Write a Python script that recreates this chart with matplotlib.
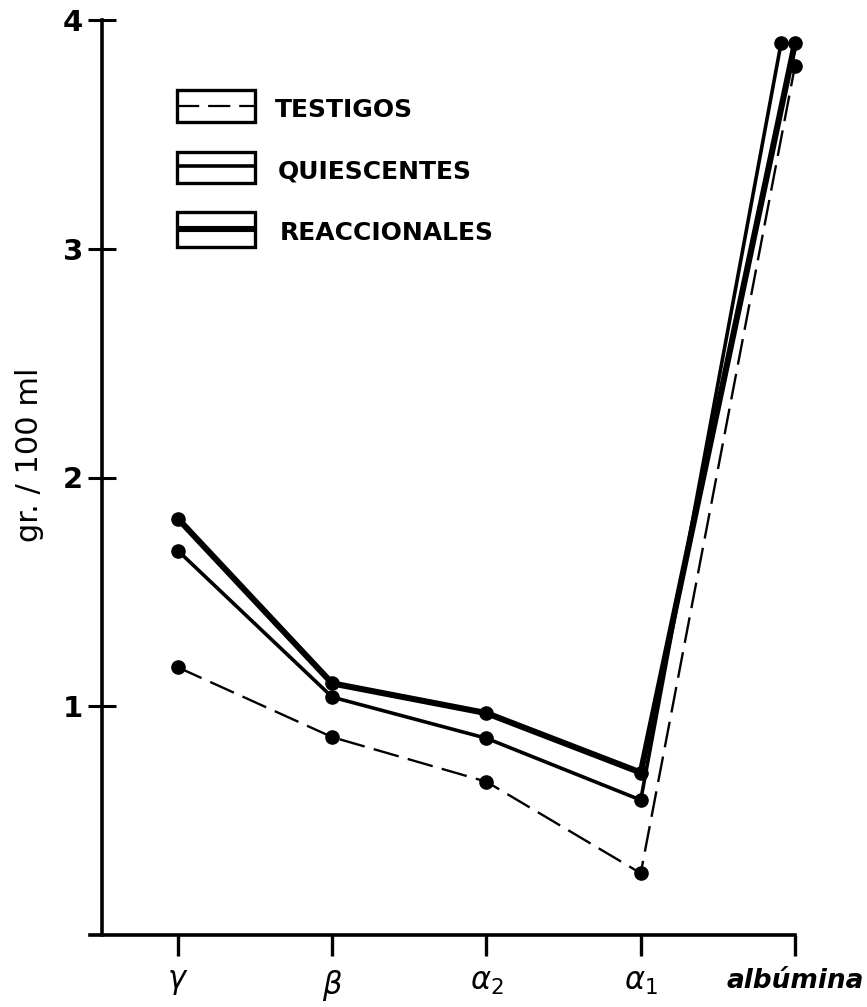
import matplotlib
matplotlib.use('Agg')
import matplotlib.pyplot as plt
from matplotlib.patches import Rectangle
from matplotlib.lines import Line2D

# fracciones proteicas del suero
fracciones = [r'$\gamma$', r'$\beta$', r'$\alpha_2$', r'$\alpha_1$', 'albúmina']
testigos = [1.17, 0.865, 0.67, 0.27, 3.80]
quiescentes = [1.68, 1.04, 0.86, 0.59, 3.90]
reaccionales = [1.82, 1.10, 0.97, 0.71, 3.90]
y_ticks = [1, 2, 3, 4]
grupos = ['TESTIGOS', 'QUIESCENTES', 'REACCIONALES']

W, H = 867, 1007
fig = plt.figure(figsize=(W / 100, H / 100), dpi=100)


def fx(px):
    return px / W


def fy(py):
    return 1 - py / H


ax = fig.add_axes([fx(90), fy(935), fx(795) - fx(90), fy(20) - fy(935)])
ax.set_xlim(-0.57, 4.0)
ax.set_ylim(0, 4)

x = list(range(len(fracciones)))
# el punto de albúmina de los quiescentes está algo corrido a la izquierda
x_quies = x[:-1] + [x[-1] - 0.09]

estilos = [
    (testigos, x, dict(lw=1.7, dashes=(11, 4))),
    (quiescentes, x_quies, dict(lw=2.6)),
    (reaccionales, x, dict(lw=4.4)),
]
for vals, xs, kw in estilos:
    ax.plot(xs, vals, color='black', marker='o', ms=9.5,
            solid_capstyle='round', clip_on=False, **kw)

for s in ['top', 'right']:
    ax.spines[s].set_visible(False)
ax.spines['left'].set_position(('data', -0.49))
ax.spines['left'].set_bounds(0, 4)
for s in ['left', 'bottom']:
    ax.spines[s].set_linewidth(2.6)

ax.set_yticks(y_ticks)
ax.set_yticklabels([str(t) for t in y_ticks], fontsize=21, fontweight='bold')
ax.tick_params(axis='y', direction='inout', length=20, width=2.2, pad=4)

ax.set_xticks(x)
ax.set_xticklabels(fracciones)
ax.tick_params(axis='x', direction='out', length=15, width=2.4, pad=9)
for i, lab in enumerate(ax.get_xticklabels()):
    if i == len(fracciones) - 1:
        lab.set_fontsize(19)
        lab.set_fontweight('bold')
        lab.set_fontstyle('italic')
    else:
        lab.set_fontsize(22)

fig.text(fx(30), fy(455), 'gr. / 100 ml', rotation=90, fontsize=22,
         ha='center', va='center')

# leyenda dibujada a mano: recuadro con la línea en el medio
cajas = [(90, 122, 106, 275), (152, 183, 166, 278), (212, 247, 229, 280)]
lineas = [dict(lw=1.6, dashes=(10, 4)), dict(lw=2.6), dict(lw=4.4)]
for nombre, (top, bot, ly, tx), lkw in zip(grupos, cajas, lineas):
    fig.add_artist(Rectangle((fx(177), fy(bot)), fx(255) - fx(177), fy(top) - fy(bot),
                             transform=fig.transFigure, fill=False,
                             lw=2.4, ec='black'))
    fig.add_artist(Line2D([fx(177), fx(255)], [fy(ly), fy(ly)],
                          transform=fig.transFigure, color='black',
                          solid_capstyle='butt', **lkw))
    fig.text(fx(tx), fy((top + bot) / 2 + 4), nombre, fontsize=18,
             fontweight='bold', ha='left', va='center')

fig.savefig('out.png', dpi=100)
